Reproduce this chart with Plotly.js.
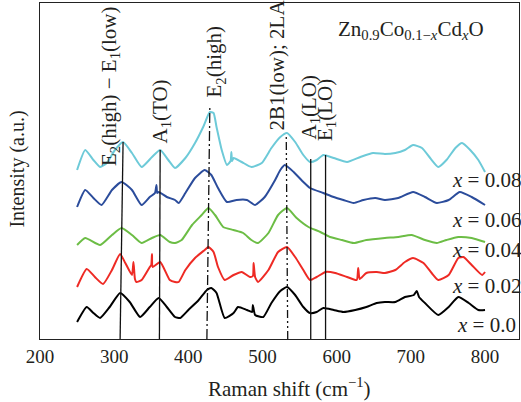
<!DOCTYPE html>
<html><head><meta charset="utf-8">
<script src="https://cdn.plot.ly/plotly-3.0.1.min.js"></script>
<style>html,body{margin:0;padding:0;background:#fff}#chart{width:521px;height:402px}</style>
</head><body><div id="chart"></div>
<script>
// Raman spectra (intensity in arbitrary units, stacked offsets as plotted)
const wn000 = [250,263,272,281,294,308,321,335,348,360,371,382,389,400,414,425,431,438,449,461,467,479,486,487,490,501,512,524,533,544,555,564,573,582,596,609,625,640,654,665,679,692,704,708,711,719,737,751,764,778,791,800];
const int000 = [17,32,26,21,32,46,37,22,32,41,32,22,21,29,39,49,51,46,21,26,32,29,27,34,24,22,36,48,52,44,32,26,27,31,29,27,29,32,36,37,37,42,44,48,42,36,24,32,42,36,29,29];

const wn002 = [250,263,274,285,297,308,315,324,326,328,330,337,348,350,351,352,362,375,382,387,396,409,422,427,434,440,449,461,472,483,487,488,490,494,508,521,533,544,555,564,573,585,598,614,627,629,631,640,654,665,679,692,703,717,728,737,751,764,771,782,796,800];
const int002 = [52,70,62,55,69,85,76,64,77,60,57,59,72,74,85,72,77,59,57,57,69,81,89,92,87,72,59,64,67,62,63,76,62,57,69,87,92,82,69,59,62,67,66,62,59,71,60,66,67,66,69,77,81,76,66,59,64,81,82,74,64,67];

const wn004 = [250,261,281,297,310,324,337,351,362,375,382,391,405,418,427,436,447,461,474,485,494,508,521,533,546,562,578,591,607,623,640,665,683,701,719,735,748,764,782,800];
const int004 = [94,101,94,104,111,104,96,101,104,97,96,99,114,124,131,124,112,109,106,99,96,106,124,131,121,112,107,102,99,96,99,101,102,104,99,96,99,102,101,97];

const wn006 = [250,261,272,283,297,310,324,337,348,355,357,358,360,371,382,387,396,409,422,431,440,452,465,479,490,503,517,524,530,542,555,564,582,596,609,623,636,652,665,683,703,719,735,751,766,782,800];
const int006 = [132,149,141,134,149,157,149,134,142,146,154,146,147,142,139,136,146,161,169,164,151,137,139,139,134,142,159,169,174,167,157,151,146,142,139,136,139,141,139,141,147,142,136,139,147,142,134];

const wn008 = [250,261,272,281,290,301,312,324,337,351,362,373,382,396,409,420,429,434,438,445,452,457,458,459,461,472,485,499,512,524,533,544,555,564,573,582,596,614,632,649,665,679,692,703,715,726,737,748,760,769,780,791,800];
const int008 = [169,189,179,172,176,189,197,186,172,182,189,179,171,181,196,212,227,226,212,189,174,178,187,178,181,177,172,176,191,202,206,197,184,177,179,184,181,177,182,186,185,186,189,194,191,181,172,179,191,196,189,179,167];

const seriesNames = ["x = 0.0","x = 0.02","x = 0.04","x = 0.06","x = 0.08"];

// Peak-assignment marker lines (wavenumber at bottom / top, and top intensity)
const peakBottomWn = [308, 361, 425, 534, 565, 585];
const peakTopWn    = [312, 362, 429, 532, 565, 585];
const peakTopInt   = [197, 189, 233, 204, 180, 184];
const peakLabels = ["E<sub>2</sub>(high) − E<sub>1</sub>(low)","A<sub>1</sub>(TO)","E<sub>2</sub>(high)","2B1(low); 2LA","A<sub>1</sub>(LO)","E<sub>1</sub>(LO)"];
const labelWn  = [294.4, 361.8, 436.6, 518.2, 562.7, 585.6];
const labelInt = [253, 227.5, 278, 273.5, 231.5, 229];

const xTicks = [200,300,400,500,600,700,800];

const colors = ["#000000","#ee2a24","#6cbd45","#2b4c9b","#6dcad8"];
const wnAll = [wn000, wn002, wn004, wn006, wn008];
const intAll = [int000, int002, int004, int006, int008];
const FONT = "Liberation Serif, Times New Roman, serif";
const TXT = "#231f20";

const traces = [];
for (let i = 0; i < 5; i++) {
  traces.push({x: wnAll[i], y: intAll[i], mode: "lines", name: seriesNames[i],
    line: {color: colors[i], width: 2, shape: "spline", smoothing: 0.5}, hoverinfo: "skip"});
}
const dashes = ["solid","solid","10px,3px,2px,3px","8px,3px,2px,3px,2px,3px","solid","solid"];
for (let j = 0; j < peakBottomWn.length; j++) {
  traces.push({x: [peakBottomWn[j], peakTopWn[j]], y: [0, peakTopInt[j]], mode: "lines",
    line: {color: "#111", width: 1.3, dash: dashes[j]}, hoverinfo: "skip"});
}

const ann = [];
for (let j = 0; j < peakLabels.length; j++) {
  ann.push({x: labelWn[j], y: labelInt[j], xref: "x", yref: "y", text: peakLabels[j], textangle: -90,
    showarrow: false, xanchor: "center", yanchor: "middle", font: {family: FONT, size: 21, color: TXT}});
}
const lblY = [14, 53, 89, 119, 159];
const lblX = [759.5, 752.8, 752.8, 752.8, 752.8];
for (let i = 0; i < 5; i++) {
  ann.push({x: lblX[i], y: lblY[i], xref: "x", yref: "y", text: "<i>x</i> = " + seriesNames[i].slice(4),
    showarrow: false, xanchor: "left", yanchor: "middle", font: {family: FONT, size: 21, color: TXT}});
}
ann.push({x: 700, y: 309, xref: "x", yref: "y", showarrow: false, xanchor: "center", yanchor: "middle",
  text: "Zn<sub>0.9</sub>Co<sub>0.1−<i>x</i></sub>Cd<sub><i>x</i></sub>O", font: {family: FONT, size: 21, color: TXT}});
ann.push({x: 0.52, y: -0.143, xref: "paper", yref: "paper", showarrow: false, xanchor: "center", yanchor: "middle",
  text: "Raman shift (cm<sup>−1</sup>)", font: {family: FONT, size: 21, color: TXT}});
ann.push({x: -0.046, y: 0.507, xref: "paper", yref: "paper", showarrow: false, xanchor: "center", yanchor: "middle",
  textangle: -90, text: "Intensity (a.u.)", font: {family: FONT, size: 20, color: TXT}});

const layout = {
  width: 521, height: 402, margin: {l: 40, r: 2, t: 3, b: 63},
  paper_bgcolor: "#fff", plot_bgcolor: "#fff", showlegend: false,
  font: {family: FONT, size: 19, color: TXT},
  xaxis: {range: [200, 845.8], tickvals: xTicks, ticktext: xTicks.map(String), ticks: "", showgrid: false, zeroline: false,
    showline: true, mirror: true, linecolor: "#222", linewidth: 1.3, tickfont: {family: FONT, size: 19, color: TXT}},
  yaxis: {range: [0, 336], showticklabels: false, ticks: "", showgrid: false, zeroline: false,
    showline: true, mirror: true, linecolor: "#222", linewidth: 1.3},
  annotations: ann
};
Plotly.newPlot("chart", traces, layout, {displayModeBar: false, staticPlot: true});
</script></body></html>
